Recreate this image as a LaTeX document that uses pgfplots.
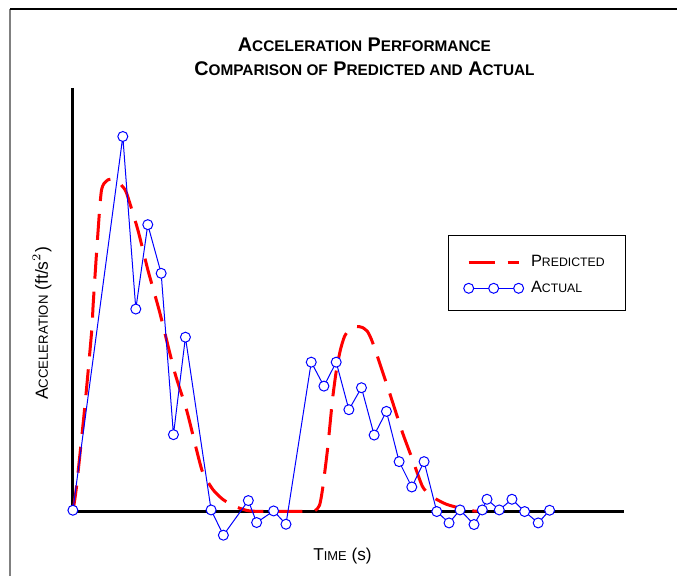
\documentclass[border=0pt]{standalone}
\usepackage{fontspec}
\setmainfont{Liberation Sans}
\usepackage{pgfplots}
\pgfplotsset{compat=1.18}
\newcommand\tsc[1]{{\fontsize{7.7}{9}\selectfont #1}}
\newcommand\lsc[1]{{\fontsize{6.15}{8}\selectfont #1}}
\newcommand\ysc[1]{{\fontsize{6.6}{8}\selectfont #1}}
\newcommand\xsc[1]{{\fontsize{6.45}{8}\selectfont #1}}
\definecolor{predred}{RGB}{255,0,0}
\definecolor{actblue}{RGB}{0,0,255}
\pgfplotsset{
  predleg/.style={legend image code/.code={\draw[##1] (0pt,0pt) -- (25pt,0pt);}},
  actleg/.style={legend image code/.code={\draw[##1] plot coordinates {(0pt,0pt) (12.5pt,0pt) (25pt,0pt)};}},
}
\begin{document}
\begin{tikzpicture}
\begin{axis}[
  x=0.5pt, y=0.5pt,
  xmin=-73, xmax=605, ymin=-65, ymax=512,
  hide axis, clip=false,
  legend cell align=left,
  legend style={at={(axis cs:391,256.5)}, anchor=north west, draw=none, fill=none,
    inner sep=0pt, nodes={inner sep=0pt}, column sep=3.7pt, row sep=5.7pt,
    font=\fontsize{8.2}{10}\selectfont},
]
\path (axis cs:-73,-65) rectangle (axis cs:605,512);
% frame
\draw[gray, line width=1pt] (axis cs:-63,-65) -- (axis cs:-63,503);
\draw[black, line width=1pt] (axis cs:-63,503) -- (axis cs:605,503);
% axes
\draw[black, line width=1.5pt] (axis cs:0,424) -- (axis cs:0,0) -- (axis cs:552,0);
% legend box
\draw[black, line width=0.5pt] (axis cs:376,276) rectangle (axis cs:553,201);
% titles
\node[anchor=base, font=\bfseries\fontsize{9.9}{12}\selectfont] at (axis cs:292,460)
  {A\tsc{CCELERATION} P\tsc{ERFORMANCE}};
\node[anchor=base, font=\bfseries\fontsize{9.9}{12}\selectfont] at (axis cs:292,436)
  {C\tsc{OMPARISON OF} P\tsc{REDICTED AND} A\tsc{CTUAL}};
\node[anchor=base, font=\fontsize{8.6}{10}\selectfont] at (axis cs:270,-49)
  {T\xsc{IME} (s)};
\node[anchor=base, rotate=90, font=\fontsize{8.8}{10}\selectfont] at (axis cs:-25,188)
  {A\ysc{CCELERATION} (ft/s$^2$)};

\addplot[predred, line width=1.5pt, dash pattern=on 13pt off 6.5pt, smooth, tension=0.4, predleg]
coordinates {
(0,0) (3.7,25.3) (12,105.3) (18.7,179) (20.3,207) (23.7,259) (27,305.3) (28.7,322)
(31,328) (35.3,332) (40,332.5) (45.3,330.3) (49,326) (53.7,318.7) (65,282) (75,242)
(87,199) (102,139) (113.7,102) (123.7,62) (130,39) (140,22) (150,12) (160,6) (170,2)
(182,0) (237,0) (243,1) (247,6) (250,22) (255,62) (260,112) (264,142) (268,162)
(272,175) (277,182) (284,185) (290,184) (295,180) (299,172) (305,155) (317,119)
(330,79) (340,52) (350,25) (357,17) (364,12) (374,7) (384,4) (394,1) (405,0)
};
\addlegendentry{P\lsc{REDICTED}}

\addplot[actblue, line width=0.5pt, mark=*, mark size=2.5pt,
  mark options={solid, draw=actblue, fill=white, line width=0.5pt}, actleg]
coordinates {
(0,1) (50,375.3) (63,202.5) (75,287) (88.4,238.3) (100.7,76.7) (112.7,174.3)
(138.4,1.3) (150.7,-24) (175.7,10.7) (184,-11.3) (201,0.3) (213.4,-13)
(238.7,149.3) (251.4,125.3) (263.7,149.3) (276.4,101.7) (289,123.7) (301.7,76.3)
(314,100) (326.7,49.7) (339.4,24.3) (351.7,49.7) (364.4,-0.3) (376.7,-11.7)
(387.7,1.3) (401.7,-13.3) (410,1.3) (414.7,12) (427,1.3) (439.7,12) (452.4,-0.3)
(466,-11.7) (477.4,1)
};
\addlegendentry{A\lsc{CTUAL}}
\end{axis}
\end{tikzpicture}
\end{document}
